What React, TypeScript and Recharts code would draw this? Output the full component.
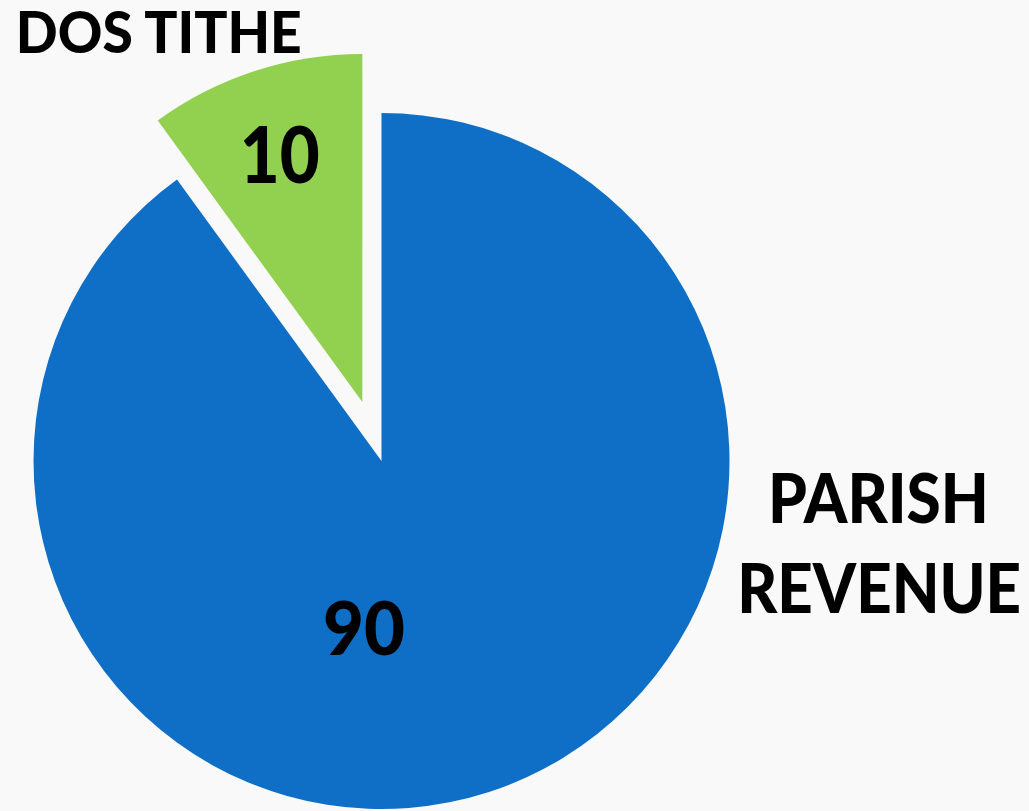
import React from 'react';
import { PieChart, Pie, Cell } from 'recharts';

const names = ['PARISH REVENUE', 'DOS TITHE'];
const values = [90, 10];
const colors = ['#0F6FC6', '#92D050'];

const data = names.map((name, i) => ({ name, value: values[i] }));

const CX = 381.5;
const CY = 461;
const R = 348;
const EXPLODE = 62;

// exploded slice is index 1; find its mid angle (recharts degrees, ccw from 3 o'clock, drawn clockwise from 12)
const total = values.reduce((a, b) => a + b, 0);
const startOf1 = 90 - (values[0] / total) * 360;
const mid1 = startOf1 - (values[1] / total) * 180;
const dx = EXPLODE * Math.cos((mid1 * Math.PI) / 180);
const dy = -EXPLODE * Math.sin((mid1 * Math.PI) / 180);

const FONT = 'Lato, "Open Sans", sans-serif';

// label placement as fractions of the radius from each slice's centre
const labelSpots = [
  { value: { x: -0.05, y: 0.557, size: 75, w: 82 }, name: [{ t: 'PARISH', x: 1.428, y: 0.178, w: 221 }, { t: 'REVENUE', x: 1.43, y: 0.437, w: 284 }], nameSize: 68 },
  { value: { x: -0.237, y: -0.629, size: 78, w: 80 }, name: [{ t: 'DOS TITHE', x: -0.585, y: -1.003, w: 286 }], nameSize: 57 },
];

const makeLabel = (only: number) => (props: any) => {
  const { cx, cy, outerRadius, index, value } = props;
  if (index !== only) return null;
  const s = labelSpots[index];
  return (
    <g>
      <text
        x={cx + s.value.x * outerRadius}
        y={cy + s.value.y * outerRadius}
        textAnchor="middle"
        fontFamily={FONT}
        fontWeight={900}
        fontSize={s.value.size}
        fill="#000"
        textLength={s.value.w}
        lengthAdjust="spacingAndGlyphs"
      >
        {value}
      </text>
      {s.name.map((n) => (
        <text
          key={n.t}
          x={cx + n.x * outerRadius}
          y={cy + n.y * outerRadius}
          textAnchor="middle"
          fontFamily={FONT}
          fontWeight={900}
          fontSize={s.nameSize}
          fill="#000"
          textLength={n.w}
          lengthAdjust="spacingAndGlyphs"
        >
          {n.t}
        </text>
      ))}
    </g>
  );
};

export default function App() {
  return (
    <div style={{ position: 'absolute', left: 0, top: 0, width: 1029, height: 811, background: '#f9f9f9' }}>
      <PieChart width={1029} height={811} margin={{ top: 0, right: 0, bottom: 0, left: 0 }}>
        <Pie
          data={data}
          dataKey="value"
          nameKey="name"
          cx={CX}
          cy={CY}
          outerRadius={R}
          startAngle={90}
          endAngle={-270}
          labelLine={false}
          label={makeLabel(0)}
          isAnimationActive={false}
        >
          {data.map((d, i) => (
            <Cell key={d.name} fill={i === 0 ? colors[0] : 'transparent'} stroke="none" />
          ))}
        </Pie>
        <Pie
          data={data}
          dataKey="value"
          nameKey="name"
          cx={CX + dx}
          cy={CY + dy}
          outerRadius={R}
          startAngle={90}
          endAngle={-270}
          labelLine={false}
          label={makeLabel(1)}
          isAnimationActive={false}
        >
          {data.map((d, i) => (
            <Cell key={d.name} fill={i === 1 ? colors[1] : 'transparent'} stroke="none" />
          ))}
        </Pie>
      </PieChart>
    </div>
  );
}
